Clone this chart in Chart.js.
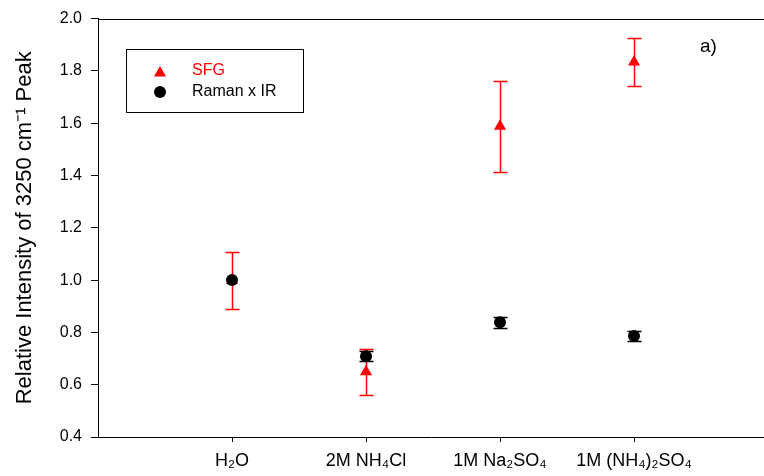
<!DOCTYPE html>
<html>
<head>
<meta charset="utf-8">
<script src="https://cdn.jsdelivr.net/npm/chart.js@4.4.0/dist/chart.umd.min.js"></script>
<style>
html, body { margin: 0; padding: 0; background: #fff; }
#wrap { width: 764px; height: 476px; }
</style>
</head>
<body>
<div id="wrap"><canvas id="chart" width="764" height="476"></canvas></div>
<script>
// data
var categories = ['H\u2082O', '2M NH\u2084Cl', '1M Na\u2082SO\u2084', '1M (NH\u2084)\u2082SO\u2084'];
var categoryPos = [1, 2, 3, 4];
var sfgValues = [0.998, 0.65, 1.588, 1.834];
var sfgErrors = [0.11, 0.088, 0.174, 0.091];
var ramanValues = [1.0, 0.709, 0.839, 0.786];
var ramanErrors = [0, 0.019, 0.021, 0.02];
var yTickValues = [0.4, 0.6, 0.8, 1.0, 1.2, 1.4, 1.6, 1.8, 2.0];

var FONT = "'Liberation Sans', Arial, sans-serif";

function toPoints(vals) {
    return categoryPos.map(function (x, i) { return { x: x, y: vals[i] }; });
}

// draw vertical error bars with caps
function drawErrors(chart, vals, errs, color) {
    var ctx = chart.ctx, xs = chart.scales.x, ys = chart.scales.y;
    ctx.save();
    ctx.strokeStyle = color;
    ctx.lineWidth = 1.5;
    for (var i = 0; i < vals.length; i++) {
        if (!errs[i]) continue;
        var px = Math.round(xs.getPixelForValue(categoryPos[i])) + 0.5;
        var top = Math.round(ys.getPixelForValue(vals[i] + errs[i])) + 0.5;
        var bot = Math.round(ys.getPixelForValue(vals[i] - errs[i])) + 0.5;
        ctx.beginPath();
        ctx.moveTo(px, top); ctx.lineTo(px, bot);
        ctx.moveTo(px - 7, top); ctx.lineTo(px + 7, top);
        ctx.moveTo(px - 7, bot); ctx.lineTo(px + 7, bot);
        ctx.stroke();
    }
    ctx.restore();
}

function triangle(ctx, x, y, r) {
    var rad = 0, step = Math.PI * 2 / 3;
    ctx.beginPath();
    ctx.moveTo(x + Math.sin(rad) * r, y - Math.cos(rad) * r);
    rad += step;
    ctx.lineTo(x + Math.sin(rad) * r, y - Math.cos(rad) * r);
    rad += step;
    ctx.lineTo(x + Math.sin(rad) * r, y - Math.cos(rad) * r);
    ctx.closePath();
    ctx.fill();
}

var extras = {
    id: 'extras',
    beforeDatasetsDraw: function (chart) {
        drawErrors(chart, sfgValues, sfgErrors, '#ff0000');
        drawErrors(chart, ramanValues, ramanErrors, '#000000');
    },
    afterDraw: function (chart) {
        var ctx = chart.ctx, a = chart.chartArea;
        ctx.save();
        // top frame line
        ctx.strokeStyle = '#000';
        ctx.lineWidth = 1;
        ctx.beginPath();
        ctx.moveTo(a.left, Math.round(a.top) + 0.5);
        ctx.lineTo(764, Math.round(a.top) + 0.5);
        ctx.stroke();

        // legend box
        ctx.strokeRect(126.5, 49.5, 177, 63);
        ctx.fillStyle = '#ff0000';
        triangle(ctx, 160, 73, 7);
        ctx.fillStyle = '#000';
        ctx.beginPath();
        ctx.arc(160, 92, 6, 0, Math.PI * 2);
        ctx.fill();
        ctx.font = '16px ' + FONT;
        ctx.textBaseline = 'middle';
        ctx.textAlign = 'left';
        ctx.fillStyle = '#ff0000';
        ctx.fillText('SFG', 192, 71);
        ctx.fillStyle = '#000';
        ctx.fillText('Raman x IR', 192, 92);

        // panel label
        ctx.font = '19px ' + FONT;
        ctx.fillText('a)', 700, 47);
        ctx.restore();
    }
};

new Chart(document.getElementById('chart').getContext('2d'), {
    type: 'scatter',
    data: {
        datasets: [{
            label: 'SFG',
            data: toPoints(sfgValues),
            pointStyle: 'triangle',
            pointRadius: 7,
            pointBorderWidth: 0,
            backgroundColor: '#ff0000',
            borderColor: '#ff0000',
            order: 2
        }, {
            label: 'Raman x IR',
            data: toPoints(ramanValues),
            pointStyle: 'circle',
            pointRadius: 6,
            pointBorderWidth: 0,
            backgroundColor: '#000000',
            borderColor: '#000000',
            order: 1
        }]
    },
    options: {
        responsive: false,
        animation: false,
        layout: { autoPadding: false, padding: { top: 16, left: 0, right: 0, bottom: 0 } },
        plugins: {
            legend: { display: false },
            tooltip: { enabled: false }
        },
        scales: {
            x: {
                type: 'linear',
                min: 0,
                max: 4.97,
                afterBuildTicks: function (s) {
                    s.ticks = categoryPos.map(function (v) { return { value: v }; });
                },
                afterFit: function (s) {
                    s.height = 39;
                    s.paddingLeft = 0;
                    s.paddingRight = 0;
                },
                ticks: {
                    autoSkip: false,
                    maxRotation: 0,
                    padding: 8,
                    color: '#000',
                    font: { family: FONT, size: 18 },
                    callback: function (v) { return categories[categoryPos.indexOf(v)]; }
                },
                grid: { drawOnChartArea: false, tickLength: 5, color: '#000' },
                border: { color: '#000', width: 1 }
            },
            y: {
                min: 0.4,
                max: 2.0,
                afterBuildTicks: function (s) {
                    s.ticks = yTickValues.map(function (v) { return { value: v }; });
                },
                afterFit: function (s) { s.width = 98; },
                ticks: {
                    padding: 9,
                    color: '#000',
                    font: { family: FONT, size: 16 },
                    callback: function (v) { return v.toFixed(1); }
                },
                grid: { drawOnChartArea: false, tickLength: 7, color: '#000' },
                border: { color: '#000', width: 1 },
                title: {
                    display: true,
                    text: 'Relative Intensity of 3250 cm\u207B\u00B9 Peak',
                    color: '#000',
                    font: { family: FONT, size: 22 },
                    padding: { top: 12, bottom: 0 }
                }
            }
        }
    },
    plugins: [extras]
});
</script>
</body>
</html>
